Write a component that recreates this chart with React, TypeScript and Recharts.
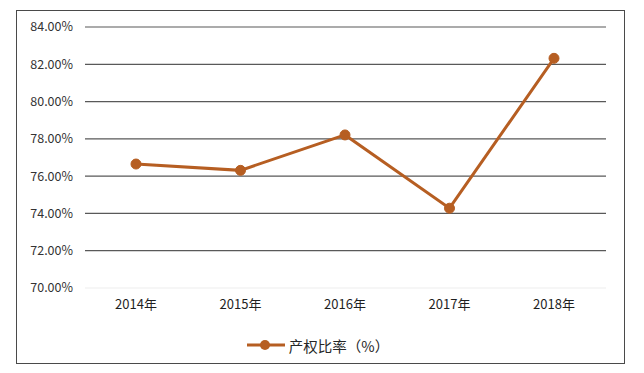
import { LineChart, Line, XAxis, YAxis, ReferenceLine, Legend } from 'recharts';

const years = ['2014年', '2015年', '2016年', '2017年', '2018年'];
const equityRatio = [76.65, 76.31, 78.21, 74.28, 82.32];
const yTicks = [70, 72, 74, 76, 78, 80, 82, 84];

const seriesName = '产权比率（%）';
const lineColor = '#B65E22';
const font = '"Noto Sans CJK SC", "Liberation Sans", sans-serif';

const data = years.map((year, i) => ({ year, value: equityRatio[i] }));

function LegendContent() {
  return (
    <div style={{ display: 'flex', justifyContent: 'center', alignItems: 'center', height: 40, fontFamily: font, fontSize: 14.5, color: '#262626', paddingLeft: 30 }}>
      <svg width={38} height={12} style={{ marginRight: 4 }}>
        <line x1={0} y1={6} x2={38} y2={6} stroke={lineColor} strokeWidth={3} />
        <circle cx={18} cy={6} r={5} fill={lineColor} />
      </svg>
      <span>{seriesName}</span>
    </div>
  );
}

export default function App() {
  return (
    <div style={{ position: 'relative', width: 644, height: 373, marginLeft: -8, marginTop: -8, background: '#fff' }}>
      <div
        style={{
          position: 'absolute',
          left: 16,
          top: 10,
          width: 609,
          height: 354,
          border: '1px solid #4a4a4a',
          boxSizing: 'border-box',
        }}
      />
      <LineChart
        width={644}
        height={373}
        data={data}
        margin={{ top: 27, right: 38, left: 0, bottom: 8 }}
        style={{ position: 'absolute', left: 0, top: 0 }}
      >
        {yTicks.map((t) => (
          <ReferenceLine
            key={t}
            y={t}
            stroke={t === 70 ? '#eeeeee' : '#595959'}
            strokeWidth={1.2}
          />
        ))}
        <XAxis
          dataKey="year"
          axisLine={false}
          tickLine={false}
          height={37}
          tickMargin={6}
          padding={{ left: 51, right: 52 }}
          tick={{ fill: '#1f1f1f', fontSize: 13, fontFamily: font }}
        />
        <YAxis
          domain={[70, 84]}
          ticks={yTicks}
          width={85}
          axisLine={false}
          tickLine={false}
          tickMargin={6}
          tickFormatter={(v: number) => v.toFixed(2) + '%'}
          tick={{ fill: '#333333', fontSize: 12.5, fontFamily: font }}
        />
        <Legend verticalAlign="bottom" height={40} content={<LegendContent />} />
        <Line
          type="linear"
          dataKey="value"
          name={seriesName}
          stroke={lineColor}
          strokeWidth={3}
          dot={{ r: 5, fill: lineColor, stroke: lineColor, strokeWidth: 1 }}
          isAnimationActive={false}
        />
      </LineChart>
    </div>
  );
}
